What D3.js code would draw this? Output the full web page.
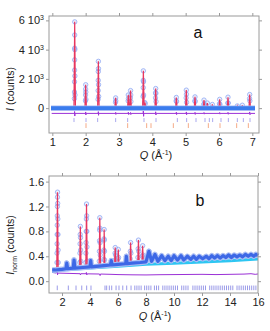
<!DOCTYPE html>
<html>
<head>
<meta charset="utf-8">
<script src="https://cdn.jsdelivr.net/npm/d3@7"></script>
<style>
  body { margin: 0; background: #fff; }
  text { font-family: "Liberation Sans", Arial, sans-serif; }
</style>
</head>
<body>
<svg id="chart" width="270" height="331"></svg>
<script>
// ---- panel a data (Q in 1/A, intensity in counts) ----
var aBase = [[0.96, 0], [7.08, 0]];
// calculated peaks: [Q, height]
var aCalc = [[1.671, 5900], [2.0, 1600], [2.381, 3200], [2.899, 700], [3.279, 900], [3.347, 1200],
  [3.731, 2550], [3.78, 380], [4.101, 1340], [4.72, 730], [5.019, 1230], [5.28, 770], [5.55, 550],
  [5.65, 350], [5.8, 250], [6.02, 600], [6.27, 750], [6.55, 150], [6.7, 200], [6.921, 930]];
// observed points on the peaks
var aObs = [
  [1.662, 650], [1.664, 1100], [1.666, 1800], [1.668, 2600], [1.669, 3300], [1.670, 4100], [1.671, 5000], [1.672, 5900], [1.674, 4000], [1.676, 2200], [1.679, 900],
  [1.994, 500], [1.997, 900], [1.999, 1300], [2.001, 1600], [2.004, 1100], [2.007, 600],
  [2.372, 600], [2.375, 1200], [2.377, 1900], [2.379, 2500], [2.381, 3200], [2.384, 2700], [2.387, 1600], [2.39, 800],
  [2.895, 400], [2.899, 700], [2.903, 500],
  [3.275, 500], [3.279, 900], [3.283, 650], [3.342, 700], [3.347, 1200], [3.352, 900], [3.357, 450],
  [3.724, 800], [3.727, 1400], [3.729, 1900], [3.731, 2550], [3.734, 1800], [3.738, 900], [3.775, 380], [3.785, 300],
  [4.095, 700], [4.098, 1050], [4.101, 1340], [4.105, 1000], [4.11, 450],
  [4.716, 500], [4.72, 730], [4.725, 450],
  [5.015, 700], [5.019, 1230], [5.023, 950], [5.028, 400],
  [5.276, 500], [5.28, 770], [5.285, 450],
  [5.545, 250], [5.55, 550], [5.556, 300], [5.65, 350], [5.8, 250],
  [6.015, 300], [6.02, 600], [6.027, 250], [6.265, 350], [6.27, 750], [6.278, 350],
  [6.55, 150], [6.7, 200], [6.917, 650], [6.921, 930], [6.926, 500]
];
var aDiff = [[0.98, -360], [1.665, -360], [1.668, -230], [1.674, -540], [1.68, -360], [1.996, -360], [2.0, -260], [2.006, -470],
  [2.012, -360], [2.376, -360], [2.38, -240], [2.386, -490], [2.392, -360], [2.896, -360], [2.9, -290], [2.906, -430],
  [2.912, -360], [3.276, -360], [3.28, -280], [3.29, -440], [3.345, -300], [3.355, -440], [3.362, -360], [3.726, -360],
  [3.73, -190], [3.738, -560], [3.745, -360], [4.096, -360], [4.1, -250], [4.108, -470], [4.115, -360], [4.716, -360],
  [4.72, -280], [4.728, -440], [4.735, -360], [5.016, -360], [5.02, -260], [5.028, -450], [5.035, -360], [5.276, -360],
  [5.28, -290], [5.288, -430], [5.295, -360], [5.546, -360], [5.55, -300], [5.56, -410], [5.566, -360], [6.016, -360],
  [6.02, -300], [6.03, -410], [6.036, -360], [6.266, -360], [6.27, -290], [6.28, -420], [6.286, -360], [6.916, -360],
  [6.92, -260], [6.93, -450], [6.94, -360], [7.08, -360]];
var aRefl1 = [1.65, 2.01, 2.36, 2.9, 3.26, 3.75, 4.11, 4.75, 5.03, 5.31, 5.58, 5.71, 5.81, 6.06, 6.28, 6.55, 6.73, 6.93];
var aRefl2 = [2.01, 3.26, 3.83, 3.96, 4.63, 5.08, 5.68, 6.03, 6.53, 6.88];
var aXTicks = [1, 2, 3, 4, 5, 6, 7];
var aYTicks = [0, 2000, 4000, 6000];
var aYTickText = ["0", "2 10", "4 10", "6 10"];
var aYTickExp = ["", "3", "3", "3"];

// ---- panel b data (normalised intensity) ----
var bBack = [[1.3, 0.16], [2, 0.18], [4, 0.21], [6, 0.24], [8, 0.27], [10, 0.29], [12, 0.31], [14, 0.33], [16, 0.355]];
var bBase = [[1.3, 0.18], [1.5, 0.18], [2, 0.19], [2.28, 0.2], [2.34, 0.29], [2.4, 0.2], [2.8, 0.21], [2.86, 0.34],
  [2.92, 0.21], [3.5, 0.22], [4, 0.23], [4.05, 0.33], [4.1, 0.23], [5.0, 0.25], [5.46, 0.26], [5.52, 0.33], [5.58, 0.26],
  [6, 0.27], [6.55, 0.28], [6.6, 0.4], [6.65, 0.28], [7, 0.29], [7.6, 0.3], [8.0, 0.31], [8.21, 0.48], [8.4, 0.32],
  [8.64, 0.43], [8.85, 0.32], [9.12, 0.41], [9.35, 0.33], [9.59, 0.4], [9.8, 0.33], [10.0, 0.41], [10.25, 0.34],
  [10.5, 0.41], [10.7, 0.34], [10.95, 0.4], [11.2, 0.35], [11.4, 0.4], [11.6, 0.35], [11.8, 0.4], [12.05, 0.36],
  [12.3, 0.4], [12.5, 0.36], [12.7, 0.41], [12.9, 0.37], [13.1, 0.41], [13.3, 0.37], [13.5, 0.41], [13.7, 0.38],
  [13.9, 0.42], [14.1, 0.38], [14.3, 0.42], [14.5, 0.39], [14.7, 0.42], [14.9, 0.39], [15.1, 0.43], [15.3, 0.4],
  [15.5, 0.43], [15.7, 0.4], [15.85, 0.43], [16, 0.41]];
// calculated peaks: [Q, foot, apex]
var bCalc = [[1.675, 0.18, 1.43], [3.31, 0.22, 0.88], [3.75, 0.22, 1.24], [4.70, 0.24, 1.02], [5.01, 0.25, 0.83],
  [5.80, 0.27, 0.54], [6.02, 0.27, 0.51], [6.9, 0.28, 0.62], [7.46, 0.29, 0.66], [7.76, 0.3, 0.57]];
var bObs = [
  [1.64, 0.3], [1.645, 0.45], [1.65, 0.6], [1.655, 0.75], [1.66, 0.9], [1.665, 1.05], [1.67, 1.2], [1.675, 1.35], [1.68, 1.43], [1.69, 1.25], [1.70, 1.0], [1.71, 0.75], [1.72, 0.5], [1.73, 0.3],
  [2.34, 0.29], [2.86, 0.34],
  [3.27, 0.3], [3.28, 0.45], [3.29, 0.6], [3.3, 0.75], [3.31, 0.88], [3.32, 0.7], [3.33, 0.5], [3.34, 0.32],
  [3.70, 0.3], [3.71, 0.45], [3.72, 0.62], [3.73, 0.8], [3.74, 1.0], [3.75, 1.24], [3.76, 1.05], [3.77, 0.8], [3.78, 0.55], [3.79, 0.32],
  [4.05, 0.33],
  [4.66, 0.32], [4.67, 0.48], [4.68, 0.65], [4.69, 0.82], [4.70, 1.02], [4.71, 0.85], [4.72, 0.62], [4.73, 0.42],
  [4.98, 0.35], [4.99, 0.5], [5.0, 0.68], [5.01, 0.83], [5.02, 0.66], [5.03, 0.48], [5.04, 0.34],
  [5.52, 0.33], [5.77, 0.34], [5.79, 0.45], [5.8, 0.54], [5.82, 0.42], [6.0, 0.36], [6.02, 0.51], [6.04, 0.38],
  [6.6, 0.4], [6.87, 0.36], [6.88, 0.48], [6.9, 0.62], [6.92, 0.45], [7.42, 0.38], [7.44, 0.52], [7.46, 0.66], [7.48, 0.48],
  [7.74, 0.4], [7.76, 0.57], [7.78, 0.42], [8.21, 0.48]
];
var bDiff = [[1.3, 0.14], [1.6, 0.13], [1.665, 0.16], [1.68, 0.1], [1.7, 0.13], [2.5, 0.125], [3.29, 0.12], [3.32, 0.1],
  [3.34, 0.12], [3.72, 0.12], [3.74, 0.14], [3.77, 0.1], [3.8, 0.118], [4.68, 0.115], [4.72, 0.09], [4.75, 0.115],
  [5.0, 0.113], [5.5, 0.11], [6, 0.106], [7, 0.102], [8, 0.1], [9, 0.104], [10, 0.106], [11, 0.108], [12, 0.11],
  [13, 0.106], [14, 0.11], [15, 0.114], [15.5, 0.12], [15.8, 0.11], [16, 0.116]];
var bRefl = [1.66, 2.45, 3.0, 3.41, 3.76, 4.07, 5.07, 5.19, 5.38, 5.55, 5.86, 6.07, 6.34, 6.62, 6.93, 7.2, 7.35, 7.5,
  7.65, 7.9, 8.05, 8.2, 8.35, 8.6, 8.75, 8.9, 9.2, 9.35, 9.5, 9.65, 9.8, 9.95, 10.1, 10.25, 10.55, 10.7, 10.85, 11.0,
  11.35, 11.5, 11.65, 11.8, 11.95, 12.1, 12.25, 12.55, 12.7, 12.85, 13.0, 13.15, 13.3, 13.45, 13.6, 13.75, 13.9,
  14.05, 14.2, 14.5, 14.65, 14.8, 14.95, 15.1, 15.25, 15.4, 15.55, 15.7, 15.85];
var bXTicks = [2, 4, 6, 8, 10, 12, 14, 16];
var bYTicks = [0, 0.4, 0.8, 1.2, 1.6];

var svg = d3.select("#chart");
var grey = "#9a9a9a";

function drawFrame(g, x, y, xTicks, yTicks, yFmt) {
  var l = x.range()[0], r = x.range()[1], t = y.range()[1], b = y.range()[0];
  var left = g.append("g").attr("transform", `translate(${l},0)`)
    .call(d3.axisLeft(y).tickValues(yTicks).tickSize(3).tickPadding(2).tickFormat(yFmt));
  var axes = [
    g.append("g").attr("transform", `translate(0,${b})`)
      .call(d3.axisBottom(x).tickValues(xTicks).tickSize(3).tickPadding(2).tickFormat(d3.format("d"))),
    g.append("g").attr("transform", `translate(0,${t})`)
      .call(d3.axisTop(x).tickValues(xTicks).tickSize(3).tickFormat("")),
    left,
    g.append("g").attr("transform", `translate(${r},0)`)
      .call(d3.axisRight(y).tickValues(yTicks).tickSize(3).tickFormat(""))
  ];
  axes.forEach(function(a) {
    a.select(".domain").remove();
    a.selectAll(".tick line").attr("stroke", grey);
    a.selectAll("text").attr("font-size", 11).attr("fill", "#222").attr("font-family", "Liberation Sans, Arial, sans-serif");
  });
  g.append("rect").attr("x", l).attr("y", t).attr("width", r - l).attr("height", b - t)
    .attr("fill", "none").attr("stroke", grey).attr("stroke-width", 1);
  return left;
}

function qLabel(g, cx, yb) {
  var t = g.append("text").attr("x", cx).attr("y", yb).attr("text-anchor", "middle")
    .attr("font-size", 11).attr("fill", "#222");
  t.append("tspan").attr("font-style", "italic").text("Q");
  t.append("tspan").text(" (Å");
  t.append("tspan").attr("font-size", 7).attr("dy", -4).text("-1");
  t.append("tspan").attr("dy", 4).text(")");
}

function reflRow(g, x, y, list, y0, y1, col) {
  g.append("g").selectAll("line").data(list).join("line")
    .attr("x1", d => x(d)).attr("x2", d => x(d))
    .attr("y1", y(y0)).attr("y2", y(y1))
    .attr("stroke", col).attr("stroke-width", 1);
}

function obsCircles(g, x, y, pts) {
  g.append("g").selectAll("circle").data(pts).join("circle")
    .attr("cx", d => x(d[0])).attr("cy", d => y(d[1])).attr("r", 2.2)
    .attr("fill", "rgba(160,180,245,0.2)").attr("stroke", "#90a8f2").attr("stroke-width", 0.8);
}

// ================= panel a =================
var xa = d3.scaleLinear().domain([0.9, 7.2]).range([49, 259]);
var ya = d3.scaleLinear().domain([-1700, 6300]).range([133, 16]);
var ga = svg.append("g");
var lineA = d3.line().x(d => xa(d[0])).y(d => ya(d[1]));

reflRow(ga, xa, ya, aRefl1, -680, -950, "#a9a9ee");
reflRow(ga, xa, ya, aRefl2, -1030, -1360, "#f5ab88");
ga.append("path").datum(aDiff).attr("d", lineA).attr("fill", "none").attr("stroke", "#9b30d6").attr("stroke-width", 1);

obsCircles(ga, xa, ya, aObs);
var aCalcPts = aBase.slice();
aCalc.forEach(function(p) { aCalcPts.push([p[0] - 0.022, 0], [p[0], p[1]], [p[0] + 0.022, 0]); });
aCalcPts.sort((m, n) => m[0] - n[0]);
ga.append("path").datum(aCalcPts).attr("d", lineA).attr("fill", "none").attr("stroke", "#e8365e").attr("stroke-width", 1.2);
ga.append("path").datum(aBase).attr("d", lineA).attr("fill", "none").attr("stroke", "#a9bcf4").attr("stroke-width", 5.5);
ga.append("path").datum(aBase).attr("d", lineA).attr("fill", "none").attr("stroke", "#3a7cee").attr("stroke-width", 3.8);

var aLeft = drawFrame(ga, xa, ya, aXTicks, aYTicks, (d, i) => aYTickText[i]);
aLeft.selectAll(".tick text").each(function(d, i) {
  if (aYTickExp[i]) d3.select(this).append("tspan").attr("font-size", 7).attr("dy", -4).text(aYTickExp[i]);
});
qLabel(ga, 156, 159);
var la = ga.append("text").attr("transform", "translate(14,89) rotate(-90)").attr("text-anchor", "middle")
  .attr("font-size", 10.5).attr("fill", "#222");
la.append("tspan").attr("font-style", "italic").text("I");
la.append("tspan").text(" (counts)");
ga.append("text").attr("x", 198).attr("y", 38).attr("text-anchor", "middle").attr("font-size", 16).attr("fill", "#111").text("a");

// ================= panel b =================
var xb = d3.scaleLinear().domain([1.07, 16]).range([49, 258]);
var yb = d3.scaleLinear().domain([-0.19, 1.69]).range([293, 176]);
var gb = svg.append("g");
var lineB = d3.line().x(d => xb(d[0])).y(d => yb(d[1]));

reflRow(gb, xb, yb, bRefl, -0.07, -0.145, "#9a9ae8");
gb.append("path").datum(bDiff).attr("d", lineB).attr("fill", "none").attr("stroke", "#9b30d6").attr("stroke-width", 1);
gb.append("path").datum(bBack).attr("d", lineB).attr("fill", "none").attr("stroke", "#2ec6f2").attr("stroke-width", 3);

obsCircles(gb, xb, yb, bObs);
var bCalcPts = bBase.slice();
bCalc.forEach(function(p) { bCalcPts.push([p[0] - 0.05, p[1]], [p[0], p[2]], [p[0] + 0.05, p[1]]); });
bCalcPts.sort((m, n) => m[0] - n[0]);
gb.append("path").datum(bCalcPts).attr("d", lineB).attr("fill", "none").attr("stroke", "#e8365e").attr("stroke-width", 1.2);
gb.append("path").datum(bBase).attr("d", lineB).attr("fill", "none").attr("stroke", "#a9bcf4").attr("stroke-width", 5.5)
  .attr("stroke-linejoin", "round");
gb.append("path").datum(bBase).attr("d", lineB).attr("fill", "none").attr("stroke", "#3d68e6").attr("stroke-width", 3.2)
  .attr("stroke-linejoin", "round");

drawFrame(gb, xb, yb, bXTicks, bYTicks, d3.format(".1f"));
qLabel(gb, 155, 320);
var lb = gb.append("text").attr("transform", "translate(14,245) rotate(-90)").attr("text-anchor", "middle")
  .attr("font-size", 10.5).attr("fill", "#222");
lb.append("tspan").attr("font-style", "italic").text("I");
lb.append("tspan").attr("font-size", 7).attr("dy", 3).text("norm");
lb.append("tspan").attr("dy", -3).text(" (counts)");
gb.append("text").attr("x", 200).attr("y", 206).attr("text-anchor", "middle").attr("font-size", 16).attr("fill", "#111").text("b");
</script>
</body>
</html>
